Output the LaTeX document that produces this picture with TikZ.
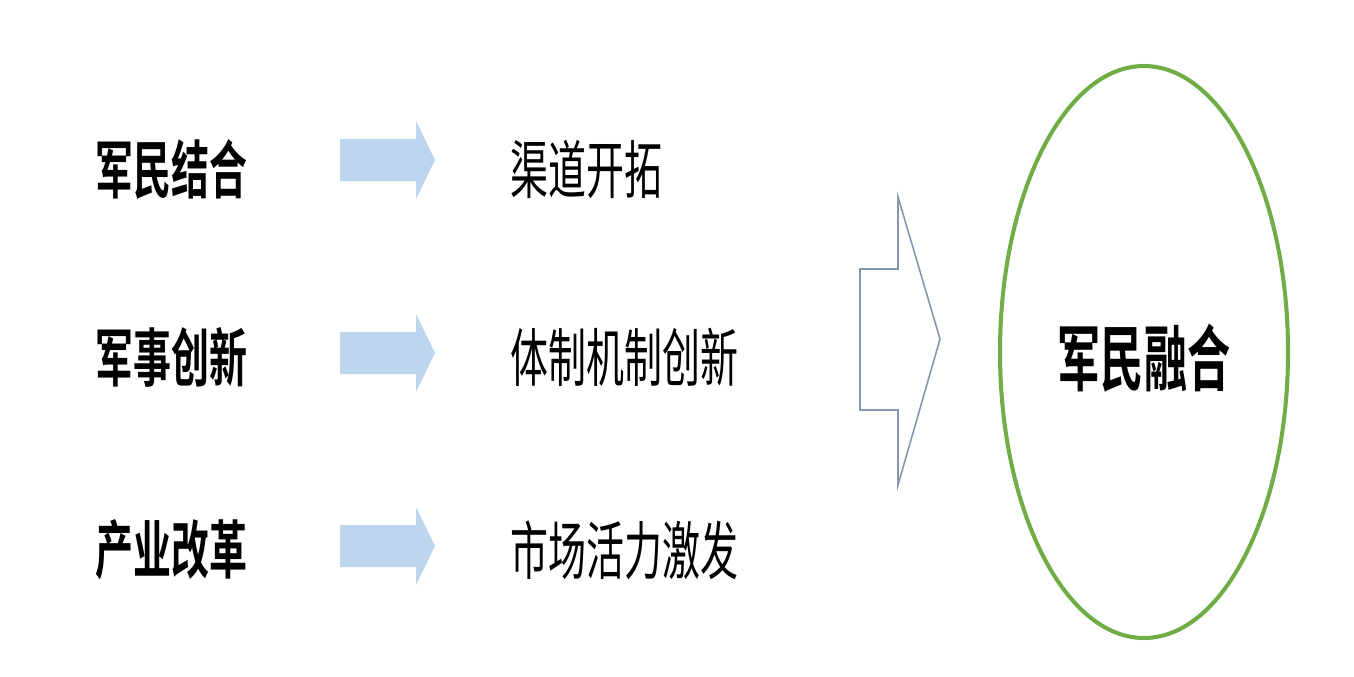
\documentclass[tikz,border=0pt]{standalone}
\usepackage{fontspec}
\usetikzlibrary{shapes.geometric}
\newfontfamily\cjk[FakeStretch=0.6,BoldFont={Noto Sans CJK SC Bold}]{Noto Sans CJK SC}
\definecolor{arrowblue}{RGB}{189,214,238}
\definecolor{outlineblue}{RGB}{132,151,176}
\definecolor{ringgreen}{RGB}{112,173,71}
\tikzset{
  cause/.style={anchor=west,inner sep=0pt,font=\cjk\bfseries\fontsize{36}{40}\selectfont},
  effect/.style={anchor=west,inner sep=0pt,font=\cjk\fontsize{36}{40}\selectfont},
  flow/.style={fill=arrowblue},
}
\begin{document}
\begin{tikzpicture}[x=0.02cm,y=-0.02cm]
            \useasboundingbox[fill=white] (0,0) rectangle (1354,676);
            \node[cause] (jm) at (95,169) {军民结合};
            \node[cause] (js) at (95,357) {军事创新};
            \node[cause] (cy) at (95,550) {产业改革};
            \node[effect] (qd) at (510,169) {渠道开拓};
            \node[effect] (tz) at (510,357) {体制机制创新};
            \node[effect] (sc) at (510,550) {市场活力激发};
            % small block arrows
            \fill[flow] (340,139) -- (416,139) -- (416,121) -- (435,160) -- (416,199) -- (416,181) -- (340,181) -- cycle;
            \fill[flow] (340,332) -- (416,332) -- (416,314) -- (435,353) -- (416,392) -- (416,374) -- (340,374) -- cycle;
            \fill[flow] (340,525) -- (416,525) -- (416,507) -- (435,546) -- (416,585) -- (416,567) -- (340,567) -- cycle;
            % big arrow
            \draw[outlineblue,line width=0.9pt,fill=white,line join=miter] (860,269) -- (898,269) -- (898,197) -- (940,339) -- (898,485) -- (898,410) -- (860,410) -- cycle;
            \node[ellipse,draw=ringgreen,line width=2.3pt,minimum width=288*0.02cm,minimum height=572*0.02cm,inner sep=0pt] (rh) at (1144,352) {};
            \node[inner sep=0pt,font=\cjk\bfseries\fontsize{41}{45}\selectfont] (rhtext) at (1144,358) {军民融合};
        \end{tikzpicture}
\end{document}
